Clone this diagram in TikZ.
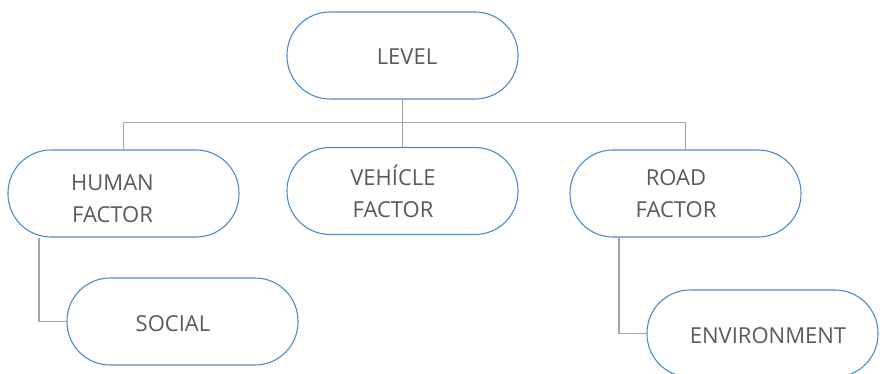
\documentclass[tikz,border=0pt]{standalone}
\usepackage{fontspec}
\setmainfont{Open Sans}
\usetikzlibrary{calc}
\definecolor{boxblue}{HTML}{4A8BD0}
\definecolor{linkgray}{HTML}{A6A6A6}
\definecolor{txtgray}{HTML}{5A5A5A}
\tikzset{
  pill/.style={draw=boxblue, line width=1.1pt, fill=white, rounded corners=43pt,
    minimum width=231pt, minimum height=87pt, inner sep=0pt},
  lbl/.style={text=txtgray, align=center, inner sep=0pt,
    font=\fontsize{22}{32}\selectfont},
  link/.style={draw=linkgray, line width=1.3pt}
}
\begin{document}
\begin{tikzpicture}[x=1pt,y=-1pt]
\useasboundingbox (0,0) rectangle (886,374);
% boxes
\node[pill] (level) at (402.5,55.5) {};
\node[pill] (human) at (123.5,193.5) {};
\node[pill] (vehicle) at (402.5,191) {};
\node[pill] (road) at (685.5,193.5) {};
\node[pill] (social) at (182.5,321.5) {};
\node[pill] (env) at (762.5,333.5) {};
% texts
\node[lbl] (levelt) at (407,57) {LEVEL};
\node[lbl] (humant) at (112.5,199) {HUMAN\\FACTOR};
\node[lbl] (vehiclet) at (393,191) {VEHÍCLE\\FACTOR};
\node[lbl] (roadt) at (676,193.5) {ROAD\\FACTOR};
\node[lbl] (socialt) at (173,323.5) {SOCIAL};
\node[lbl] (envt) at (768,335.5) {ENVIRONMENT};
% connectors
\coordinate (bus) at (402.5,122.5);
\draw[link] (level.south) -- (bus);
\draw[link] (human.north) -- (human.north |- bus) -- (road.north |- bus) -- (road.north);
\draw[link] (bus) -- (vehicle.north);
\draw[link] ([xshift=-84.5pt]human.south) |- (social.west);
\draw[link] ([xshift=-66.5pt]road.south) |- (env.west);
\end{tikzpicture}
\end{document}
